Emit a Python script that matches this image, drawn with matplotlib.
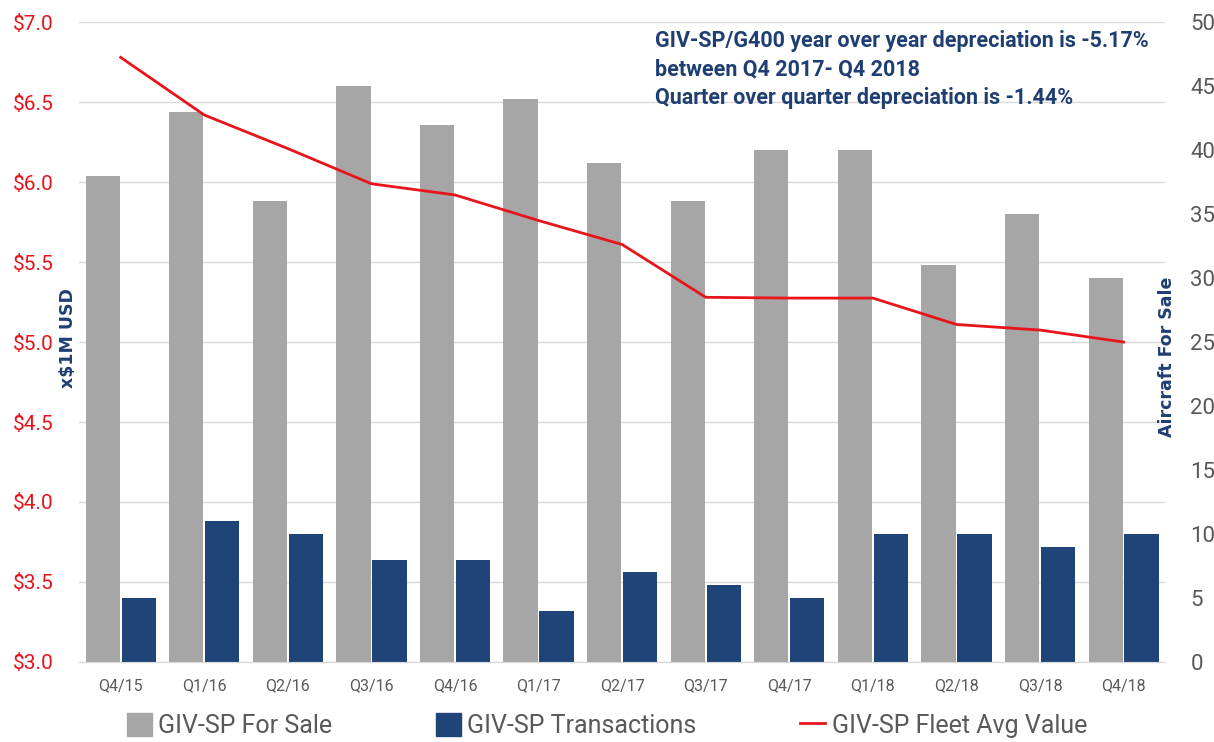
import matplotlib
matplotlib.use('Agg')
import matplotlib.pyplot as plt
from matplotlib.patches import Patch
from matplotlib.lines import Line2D
import numpy as np

quarters = ['Q4/15', 'Q1/16', 'Q2/16', 'Q3/16', 'Q4/16', 'Q1/17', 'Q2/17',
            'Q3/17', 'Q4/17', 'Q1/18', 'Q2/18', 'Q3/18', 'Q4/18']
for_sale = [38, 43, 36, 45, 42, 44, 39, 36, 40, 40, 31, 35, 30]
transactions = [5, 11, 10, 8, 8, 4, 7, 6, 5, 10, 10, 9, 10]
avg_value = [6.78, 6.42, 6.21, 5.99, 5.92, 5.76, 5.61, 5.28, 5.275, 5.275, 5.11, 5.075, 5.0]

left_ticks = [3.0, 3.5, 4.0, 4.5, 5.0, 5.5, 6.0, 6.5, 7.0]
right_ticks = [0, 5, 10, 15, 20, 25, 30, 35, 40, 45, 50]

note = ('GIV-SP/G400 year over year depreciation is -5.17%\n'
        'between Q4 2017- Q4 2018\n'
        'Quarter over quarter depreciation is -1.44%')

GRAY = '#a6a6a6'
BLUE = '#1f4478'
RED = '#e8141b'
NAVY = '#1f3f73'
TXT = '#595959'

plt.rcParams['font.family'] = ['Roboto', 'DejaVu Sans']

rect = [0.065, 0.108, 0.895, 0.862]
fig = plt.figure(figsize=(12.14, 7.42), dpi=100)
ax = fig.add_axes(rect)
ax2 = ax.twinx()

x = np.arange(len(quarters))
w = 0.41
ax2.bar(x - 0.215, for_sale, width=w, color=GRAY, zorder=2)
ax2.bar(x + 0.215, transactions, width=w, color=BLUE, zorder=2)
ax2.set_ylim(0, 50)
ax2.set_yticks(right_ticks)
ax2.tick_params(axis='y', length=0, labelsize=16, labelcolor=TXT, pad=18)

ax.set_ylim(3.0, 7.0)
ax.set_yticks(left_ticks)
ax.set_yticklabels(['$%.1f' % v for v in left_ticks])
ax.tick_params(axis='y', length=0, labelsize=15, labelcolor=RED, pad=18)
ax.grid(axis='y', color='#d9d9d9', linewidth=1)
ax.set_axisbelow(True)
ax.set_xlim(-0.5, len(quarters) - 0.5)
ax.set_xticks(x)
ax.set_xticklabels(quarters)
ax.tick_params(axis='x', length=0, labelsize=11.5, labelcolor=TXT, pad=12)

# separate overlay axes for the red line so it sits above the bars
ax3 = fig.add_axes(rect, sharex=ax)
ax3.set_ylim(3.0, 7.0)
ax3.axis('off')
ax3.patch.set_visible(False)
ax3.plot(x, avg_value, color=RED, linewidth=2)

for a in (ax, ax2):
    for s in ('top', 'left', 'right'):
        a.spines[s].set_visible(False)
    a.spines['bottom'].set_color('#d9d9d9')

fig.text(0.056, 0.545, 'x$1M USD', rotation=90, ha='center', va='center',
         color=NAVY, fontsize=12.5, fontweight='bold', family='DejaVu Sans')
fig.text(0.961, 0.519, 'Aircraft For Sale', rotation=90, ha='center', va='center',
         color=NAVY, fontsize=12.5, fontweight='bold', family='DejaVu Sans')

ax.text(0.530, 0.988, note, transform=ax.transAxes, ha='left', va='top',
        color=NAVY, fontsize=15.5, fontweight='bold', linespacing=1.38, zorder=5)

handles = [Patch(color=GRAY), Patch(color=BLUE), Line2D([], [], color=RED, linewidth=2)]
labels = ['GIV-SP For Sale', 'GIV-SP Transactions', 'GIV-SP Fleet Avg Value']
leg = fig.legend(handles, labels, loc='center', bbox_to_anchor=(0.5, 0.022), ncol=3,
                 frameon=False, fontsize=18, handlelength=1.0, handleheight=1.0,
                 handletextpad=0.25, columnspacing=4.15)
for t in leg.get_texts():
    t.set_color(TXT)

fig.savefig('out.png', dpi=100)
